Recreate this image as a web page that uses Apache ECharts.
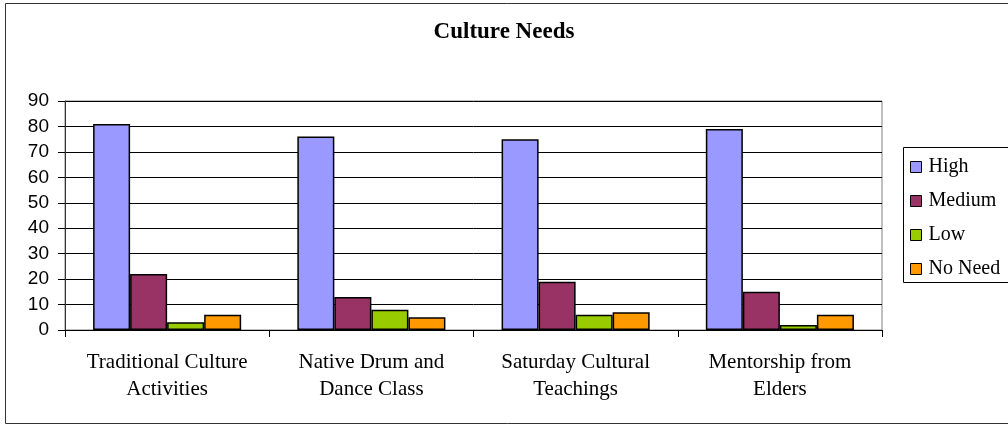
<!DOCTYPE html>
<html>
<head>
<meta charset="utf-8">
<script src="https://cdn.jsdelivr.net/npm/echarts@6/dist/echarts.min.js"></script>
<style>
html,body{margin:0;padding:0;background:#fff;}
#chart{width:1008px;height:425px;}
</style>
</head>
<body>
<div id="chart"></div>
<script>
const categories = ["Traditional Culture\nActivities", "Native Drum and\nDance Class", "Saturday Cultural\nTeachings", "Mentorship from\nElders"];
const seriesNames = ["High", "Medium", "Low", "No Need"];
const high = [81, 76, 75, 79];
const medium = [22, 13, 19, 15];
const low = [3, 8, 6, 2];
const noNeed = [6, 5, 7, 6];
const yTicks = [0, 10, 20, 30, 40, 50, 60, 70, 80, 90];
const colors = ["#9999FF", "#993366", "#99CC00", "#FF9900"];

const values = [high, medium, low, noNeed];
const chart = echarts.init(document.getElementById('chart'));
chart.setOption({
  animation: false,
  backgroundColor: '#fff',
  graphic: [{
    type: 'rect', z: -10,
    shape: { x: 5.5, y: 3.5, width: 1010, height: 420 },
    style: { fill: '#fff', stroke: '#333', lineWidth: 1 }
  }, {
    type: 'rect', z: -5,
    shape: { x: 903.5, y: 147.5, width: 200, height: 135 },
    style: { fill: '#fff', stroke: '#000', lineWidth: 1 }
  }],
  title: {
    text: 'Culture Needs',
    left: 'center',
    top: 16,
    textStyle: { fontFamily: 'Liberation Serif', fontWeight: 'bold', fontSize: 23, color: '#000' }
  },
  legend: {
    orient: 'vertical',
    left: 903,
    top: 150,
    padding: [7, 5, 5, 7],
    itemGap: 14,
    itemWidth: 11,
    itemHeight: 11,
    icon: 'rect',
    backgroundColor: 'transparent',
    borderWidth: 0,
    textStyle: { fontFamily: 'Liberation Serif', fontSize: 20, color: '#000', lineHeight: 20, padding: [0, 0, 0, 2] },
    itemStyle: { borderColor: '#000', borderWidth: 1 },
    data: seriesNames
  },
  grid: {
    left: 65, top: 101, right: 126, bottom: 95,
    show: true, borderColor: '#808080', borderWidth: 1, backgroundColor: 'transparent'
  },
  xAxis: {
    type: 'category',
    data: categories,
    axisLine: { lineStyle: { color: '#000', width: 1 } },
    axisTick: { show: true, length: 7, alignWithLabel: false, lineStyle: { color: '#000' } },
    axisLabel: {
      margin: 19,
      fontFamily: 'Liberation Serif', fontSize: 21, color: '#000', lineHeight: 27,
      interval: 0
    }
  },
  yAxis: {
    type: 'value',
    min: yTicks[0], max: yTicks[yTicks.length - 1], interval: 10,
    axisLine: { show: true, lineStyle: { color: '#333', width: 1 } },
    axisTick: { show: true, length: 7, lineStyle: { color: '#000' } },
    splitLine: { show: true, lineStyle: { color: '#000', width: 1 } },
    axisLabel: { margin: 16, fontFamily: 'Liberation Sans', fontSize: 19, color: '#000' }
  },
  series: seriesNames.map((name, i) => ({
    name: name,
    type: 'bar',
    data: values[i],
    barGap: '0%',
    barCategoryGap: '27.5%',
    itemStyle: { color: colors[i], borderColor: '#000', borderWidth: 1.5 }
  }))
});
</script>
</body>
</html>
